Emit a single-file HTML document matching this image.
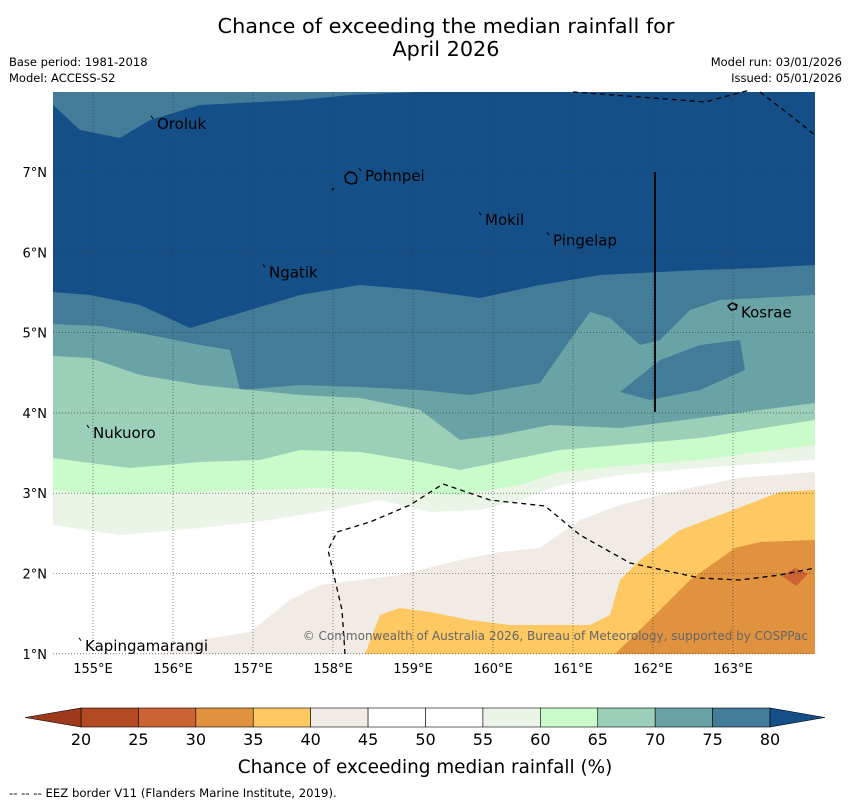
<!DOCTYPE html>
<html><head><meta charset="utf-8"><style>
body{margin:0;background:#fff;width:850px;height:804px;overflow:hidden;font-family:"Liberation Sans","DejaVu Sans",sans-serif}
svg text{font-family:"DejaVu Sans","Liberation Sans",sans-serif}
</style></head><body>
<svg id="chart" width="850" height="804" xmlns="http://www.w3.org/2000/svg">
<text x="446" y="33" font-size="20.8" text-anchor="middle">Chance of exceeding the median rainfall for</text>
<text x="446" y="56" font-size="20.8" text-anchor="middle">April 2026</text>
<text x="9" y="66" font-size="11.5">Base period: 1981-2018</text>
<text x="9" y="82" font-size="11.5">Model: ACCESS-S2</text>
<text x="842" y="66" font-size="11.5" text-anchor="end">Model run: 03/01/2026</text>
<text x="842" y="82" font-size="11.5" text-anchor="end">Issued: 05/01/2026</text>
<defs><clipPath id="mc"><rect x="53" y="92" width="762" height="562"/></clipPath></defs>
<g id="map" clip-path="url(#mc)"></g>
<g id="over"></g>
<g id="cbar"></g>
<text x="425" y="773" font-size="18.4" text-anchor="middle">Chance of exceeding median rainfall (%)</text>
<text x="9" y="797" font-size="11.7">--  --  -- EEZ border V11 (Flanders Marine Institute, 2019).</text>
</svg>
<script>
const levels=[20,25,30,35,40,45,50,55,60,65,70,75,80];
const colors=["#b34a24","#cc6333","#e0923f","#fec862","#f0ebe5","#ffffff","#ffffff","#eaf5e8","#cafccb","#9ccfb8","#6aa3a5","#437c99"];
const lowColor="#9e3a1c", highColor="#154f87";
const lonTicks=[155,156,157,158,159,160,161,162,163];
const latTicks=[1,2,3,4,5,6,7];
const places=[["Oroluk",155.75,7.6],["Pohnpei",158.35,6.95],["Mokil",159.85,6.4],["Pingelap",160.7,6.15],["Ngatik",157.15,5.75],["Kosrae",163.05,5.25],["Nukuoro",154.95,3.75],["Kapingamarangi",154.85,1.1]];
const X=lon=>93+(lon-155)*80, Y=lat=>172+(7-lat)*80.3;
const NS="http://www.w3.org/2000/svg";
function mk(p,t,a){const e=document.createElementNS(NS,t);for(const k in a)e.setAttribute(k,a[k]);p.appendChild(e);return e;}
const map=document.getElementById('map'),over=document.getElementById('over'),cb=document.getElementById('cbar');
function band(pts,color,name){
 const e=mk(map,'polygon',{points:pts.map(p=>p.join(',')).join(' '),fill:color});
 
 
}
const bg=mk(map,'rect',{x:53,y:92,width:762,height:562,fill:highColor});


const B=(line)=>line.concat([[815,654],[53,654]]);
band([[53,92],[53,105],[80,130],[120,138],[150,120],[200,105],[300,100],[350,95],[420,92]],colors[11],'band-75-80-top');
band(B([[53,292],[90,295],[140,305],[190,328],[250,310],[300,295],[360,285],[420,290],[480,298],[540,285],[600,275],[700,270],[760,268],[815,265]]),colors[11],'band-75-80');
band(B([[53,324],[100,326],[150,335],[200,345],[230,350],[240,390],[300,385],[360,387],[420,390],[470,395],[540,383],[570,340],[590,312],[610,318],[640,345],[660,340],[690,310],[720,300],[815,295]]),colors[10],'band-70-75');
band([[620,392],[660,360],[700,345],[740,340],[745,370],[700,390],[650,400]],colors[11],'band-75-80-pocket');
band(B([[53,356],[90,358],[140,375],[200,385],[250,390],[300,395],[360,398],[420,410],[460,440],[500,435],[550,425],[620,428],[700,418],[760,410],[815,403]]),colors[9],'band-65-70');
band(B([[53,458],[90,463],[130,468],[200,462],[260,460],[300,450],[360,452],[420,462],[460,470],[500,462],[560,450],[620,445],[700,438],[815,420]]),colors[8],'band-60-65');
band(B([[53,490],[100,495],[200,492],[260,490],[320,488],[400,492],[460,495],[520,485],[560,472],[620,466],[700,460],[760,452],[815,445]]),colors[7],'band-55-60');
band(B([[53,525],[120,535],[200,528],[270,520],[330,510],[380,500],[430,512],[480,510],[520,500],[560,485],[620,475],[700,468],[815,460]]),colors[6],'band-50-55');
band([[160,654],[200,640],[250,632],[290,600],[320,585],[400,575],[460,560],[500,552],[540,548],[580,520],[620,505],[680,490],[740,478],[815,472],[815,654]],colors[4],'band-40-45');
band([[365,654],[380,615],[400,608],[430,612],[470,620],[510,625],[550,625],[590,625],[610,615],[620,580],[640,560],[680,530],[720,515],[780,492],[815,490],[815,654]],colors[3],'band-35-40');
band([[615,654],[650,620],[690,580],[735,548],[760,542],[815,540],[815,654]],colors[2],'band-30-35');
band([[782,576],[795,568],[808,574],[796,586]],colors[1],'band-25-30');
lonTicks.forEach(l=>{const g=mk(over,'line',{x1:X(l),x2:X(l),y1:92,y2:654,stroke:'#333','stroke-width':0.6,'stroke-dasharray':'1,2'});
 const t=mk(over,'text',{x:X(l),y:673,'font-size':13,'text-anchor':'middle'});t.textContent=l+'°E';});
latTicks.forEach(l=>{const g=mk(over,'line',{x1:53,x2:815,y1:Y(l),y2:Y(l),stroke:'#333','stroke-width':0.6,'stroke-dasharray':'1,2'});
 const t=mk(over,'text',{x:47,y:Y(l)+5,'font-size':13,'text-anchor':'end'});t.textContent=l+'°N';});
[[[573,92],[640,97],[705,102],[750,90]],[[760,92],[790,115],[815,135]],[[345,654],[342,610],[335,580],[328,550],[337,532],[370,522],[410,505],[443,484],[490,500],[545,506],[580,535],[630,563],[700,578],[740,580],[780,575],[815,568]]].forEach(p=>{const e=mk(over,'polyline',{points:p.map(q=>q.join(',')).join(' '),fill:'none',stroke:'#000','stroke-width':1.3,'stroke-dasharray':'5,4'});});
const vl=mk(over,'line',{x1:655,x2:655,y1:172,y2:412,stroke:'#000','stroke-width':1.8});
const isl=mk(over,'path',{d:'M345,176 l4,-4 l5,1 l3,4 l-1,6 l-5,1 l-5,-2 z M332,190 l2,-2 M728,306 l4,-3 l5,2 l-1,4 l-5,1 z',fill:'none',stroke:'#000','stroke-width':1.5});
places.forEach(p=>{const t=mk(over,'text',{x:X(p[1])+4,y:Y(p[2])+5,'font-size':15});t.textContent=p[0];
 const m=mk(over,'line',{x1:X(p[1])-2,y1:Y(p[2])-8,x2:X(p[1]),y2:Y(p[2])-5,stroke:'#000','stroke-width':1});});
const wm=mk(over,'text',{x:808,y:640,'font-size':12,'text-anchor':'end',fill:'#666'});wm.textContent='© Commonwealth of Australia 2026, Bureau of Meteorology, supported by COSPPac';
const cx0=81,cw=(770-81)/12,cy=708,ch=19;
colors.forEach((c,i)=>{const r=mk(cb,'rect',{x:cx0+i*cw,y:cy,width:cw,height:ch,fill:c,stroke:'#000','stroke-width':0.6});});
const lt=mk(cb,'polygon',{points:`${cx0},${cy} ${cx0},${cy+ch} 25,${cy+ch/2}`,fill:lowColor,stroke:'#000','stroke-width':0.6});
const rt=mk(cb,'polygon',{points:`770,${cy} 770,${cy+ch} 825,${cy+ch/2}`,fill:highColor,stroke:'#000','stroke-width':0.6});
levels.forEach((v,i)=>{const t=mk(cb,'text',{x:cx0+i*cw,y:745,'font-size':16,'text-anchor':'middle'});t.textContent=v;});
</script>
</body></html>
